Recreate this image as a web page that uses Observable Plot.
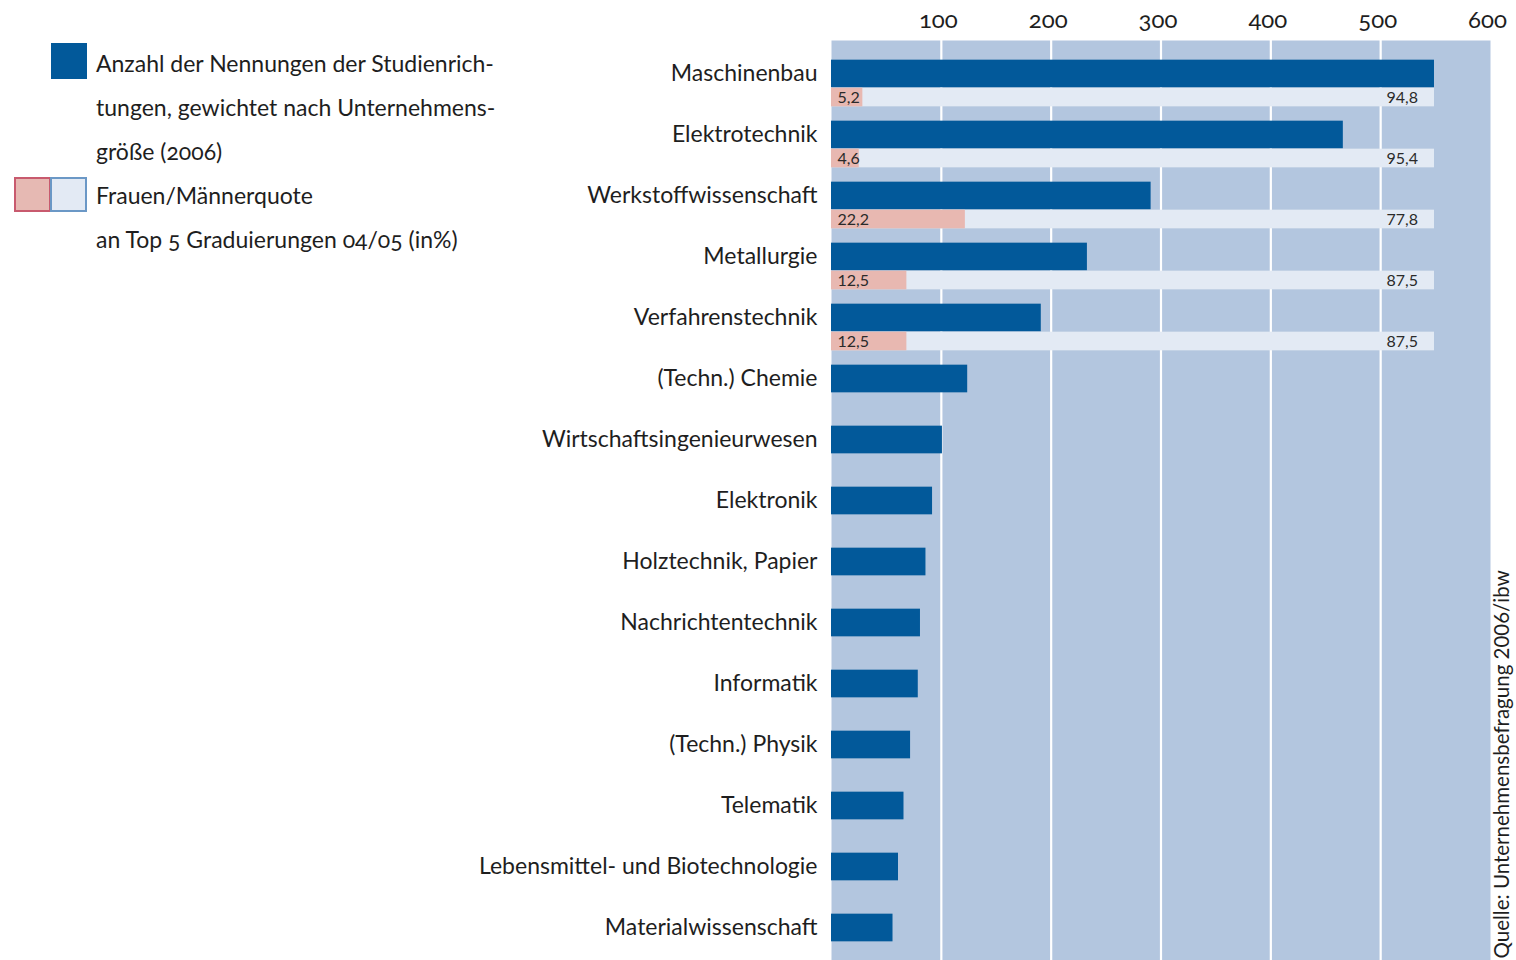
<!DOCTYPE html>
<html><head><meta charset="utf-8">
<script src="https://cdn.jsdelivr.net/npm/d3@7"></script>
<script src="https://cdn.jsdelivr.net/npm/@observablehq/plot@0.6"></script>
<style>
body{margin:0;background:#fff;font-family:Lato,"Noto Sans",sans-serif;color:#1e1e1e;}
#wrap{position:relative;width:1516px;height:960px;overflow:hidden;}
#chart{position:absolute;left:0;top:0;}
.leg{position:absolute;font-size:23px;line-height:44px;color:#1e1e1e;font-variant-numeric:oldstyle-nums;white-space:nowrap;}
.sw{position:absolute;box-sizing:border-box;}
</style></head><body>
<div id="wrap">
<div id="chart"></div>
<div class="sw" style="left:51px;top:43px;width:36px;height:36px;background:#02599a;"></div>
<div class="sw" style="left:14px;top:177px;width:37px;height:35px;background:#e6b9b3;border:2px solid #c85a6e;"></div>
<div class="sw" style="left:50px;top:177px;width:37px;height:35px;background:#e3eaf4;border:2px solid #6b98c6;"></div>
<div class="leg" style="left:96px;top:41px;">Anzahl der Nennungen der Studienrich-<br>tungen, gewichtet nach Unternehmens-<br>größe (2006)<br>Frauen/Männerquote<br>an Top 5 Graduierungen 04/05 (in%)</div>
</div>
<script>
const categories = ["Maschinenbau","Elektrotechnik","Werkstoffwissenschaft","Metallurgie","Verfahrenstechnik","(Techn.) Chemie","Wirtschaftsingenieurwesen","Elektronik","Holztechnik, Papier","Nachrichtentechnik","Informatik","(Techn.) Physik","Telematik","Lebensmittel- und Biotechnologie","Materialwissenschaft"];
const values = [549,466,291,233,191,124,101,92,86,81,79,72,66,61,56];
const top5 = ["Maschinenbau","Elektrotechnik","Werkstoffwissenschaft","Metallurgie","Verfahrenstechnik"];
const womenPct = [5.2,4.6,22.2,12.5,12.5];
const menPct = [94.8,95.4,77.8,87.5,87.5];
const xTicks = [100,200,300,400,500,600];
const source = "Quelle: Unternehmensbefragung 2006/ibw";

const full = d3.max(values);
const bars = categories.map((c,i)=>({cat:c, value:values[i]}));
const pct = top5.map((c,i)=>({cat:c, w:womenPct[i], m:menPct[i], wEnd: full*womenPct[i]/100}));
const fmt = v => v.toFixed(1).replace(".", ",");

const step = 920/15;
const c = step/2;

const chart = Plot.plot({
  width:1516, height:960,
  marginLeft:831, marginRight:26, marginTop:40, marginBottom:0,
  x:{domain:[0,600]},
  y:{type:"band", domain:categories, padding:0, range:[40,960]},
  style:{fontFamily:"Lato, 'Noto Sans', sans-serif", color:"#1e1e1e", background:"transparent"},
  marks:[
    Plot.frame({fill:"#b3c6df", stroke:null}),
    Plot.ruleX(xTicks.filter(t=>t<600), {stroke:"white", strokeWidth:2.2}),
    Plot.barX(bars, {y:"cat", x1:0, x2:"value", fill:"#02599a", insetTop:c-14, insetBottom:c-14}),
    Plot.barX(pct, {y:"cat", x1:0, x2:full, fill:"#e3eaf4", insetTop:c+14, insetBottom:step-(c+33)}),
    Plot.barX(pct, {y:"cat", x1:0, x2:"wEnd", fill:"#e8b8b1", insetTop:c+14, insetBottom:step-(c+33)}),
    Plot.text(pct, {y:"cat", x:0, text:d=>fmt(d.w), textAnchor:"start", dx:6, dy:23.5, fontSize:16, fill:"#2a2a2a"}),
    Plot.text(pct, {y:"cat", x:full, text:d=>fmt(d.m), textAnchor:"start", dx:-48, dy:23.5, fontSize:16, fill:"#2a2a2a"}),
    Plot.axisX({anchor:"top", ticks:xTicks, tickSize:0, tickPadding:13, fontSize:24, dx:-3, label:null, tickFormat:d=>String(d)}),
    Plot.axisY({anchor:"left", tickSize:0, tickPadding:14, fontSize:23, label:null}),
    Plot.text([source], {frameAnchor:"bottom-right", rotate:-90, textAnchor:"start", dx:18, dy:-2, fontSize:20.5, fill:"#1e1e1e"})
  ]
});
chart.querySelectorAll("g[aria-label='x-axis tick label'] text").forEach(t=>t.style.fontVariantNumeric="oldstyle-nums");
document.getElementById("chart").appendChild(chart);
</script>
</body></html>
